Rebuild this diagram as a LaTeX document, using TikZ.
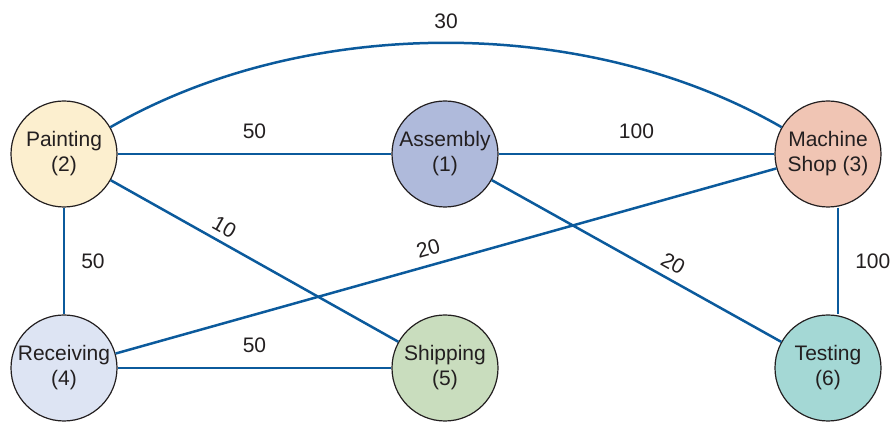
\documentclass[tikz,border=0pt]{standalone}
\usepackage{fontspec}
\setmainfont{Liberation Sans}
\usetikzlibrary{positioning}
\definecolor{FlowBlue}{HTML}{0B5A9C}
\definecolor{InkGray}{HTML}{231F20}
\definecolor{PaintFill}{HTML}{FCEFCF}
\definecolor{AssemFill}{HTML}{AFBADB}
\definecolor{MachFill}{HTML}{F0C5B4}
\definecolor{RecvFill}{HTML}{DDE4F3}
\definecolor{ShipFill}{HTML}{C9DDBE}
\definecolor{TestFill}{HTML}{A4D8D5}

\begin{document}
\begin{tikzpicture}[x=0.5pt, y=0.5pt, on grid,
  every node/.style={font=\fontsize{10.5}{12.5}\selectfont, text=InkGray},
  dept/.style={circle, draw=InkGray, line width=0.6pt, minimum size=53pt, inner sep=0pt, align=center},
  flow/.style={draw=FlowBlue, line width=1.25pt},
  wt/.style={inner sep=2pt}]
\useasboundingbox (0,0) rectangle (894,422);
\node[dept, fill=PaintFill] (paint) at (64,268) {Painting\\(2)};
\node[dept, fill=AssemFill, right=190.5pt of paint] (assem) {Assembly\\(1)};
\node[dept, fill=MachFill, right=191.5pt of assem] (mach) {Machine\\Shop (3)};
\node[dept, fill=RecvFill, below=107pt of paint] (recv) {Receiving\\(4)};
\node[dept, fill=ShipFill, below=107pt of assem] (ship) {Shipping\\(5)};
\node[dept, fill=TestFill, below=107pt of mach] (test) {Testing\\(6)};
\draw[flow] (paint) to[bend left=30, looseness=0.86] node[wt, above=4.5pt] {30} (mach);
\draw[flow] (paint) -- node[wt, above=5pt] {50} (assem);
\draw[flow] (assem) -- node[wt, above=5pt] {100} (mach);
\draw[flow] (paint) -- node[wt, right=6pt] {50} (recv);
\draw[flow] (recv) -- node[wt, above=5pt] {50} (ship);
\draw[flow] ([xshift=5pt]mach.south) -- node[wt, right=6pt] {100} ([xshift=5pt]test.north);
\draw[flow] (paint) -- node[wt, pos=0.37, sloped, above=1pt] {10} (ship);
\draw[flow] (recv) -- node[wt, pos=0.48, sloped, above=2pt] {20} (mach);
\draw[flow] (assem) -- node[wt, pos=0.60, sloped, above=1.5pt] {20} (test);
\end{tikzpicture}
\end{document}
